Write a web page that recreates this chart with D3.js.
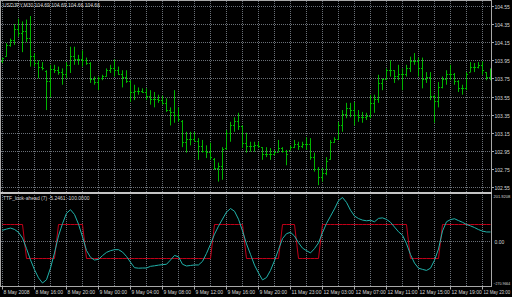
<!DOCTYPE html>
<html>
<head>
<meta charset="utf-8">
<script src="https://cdnjs.cloudflare.com/ajax/libs/d3/7.8.5/d3.min.js"></script>
<style>
body { margin: 0; background: #000; }
svg { display: block; }
text { font-family: "Liberation Sans", Arial, sans-serif; font-size: 5px; fill: #d8d8d8; }
</style>
</head>
<body>
<div id="chart"></div>
<script>
// USDJPY M30 bars, one per half hour
var barOpen = [
	103.94,104.00,104.12,104.17,104.30,104.25,104.27,104.20,104.00,103.92,
	103.88,103.83,103.72,103.85,103.84,103.82,103.80,103.90,104.00,103.96,
	103.96,103.95,103.92,103.74,103.71,103.75,103.78,103.84,103.86,103.84,
	103.80,103.76,103.72,103.60,103.61,103.61,103.60,103.56,103.52,103.52,
	103.51,103.48,103.40,103.38,103.35,103.28,103.05,103.08,103.08,103.06,
	103.00,102.95,102.94,102.86,102.76,102.78,102.98,103.15,103.24,103.28,
	103.22,103.04,103.00,103.00,103.01,102.99,102.92,102.92,102.92,102.94,
	102.98,102.95,102.96,102.99,103.02,103.00,103.02,103.02,102.88,102.75,
	102.66,102.70,102.86,103.05,103.08,103.24,103.36,103.42,103.40,103.35,
	103.32,103.32,103.34,103.48,103.52,103.70,103.74,103.84,103.84,103.78,
	103.80,103.80,103.86,103.94,103.94,103.86,103.74,103.76,103.56,103.50,
	103.66,103.74,103.80,103.80,103.72,103.64,103.64,103.82,103.88,103.88,
	103.90,103.82,103.76];
var barHigh = [
	103.98,104.14,104.19,104.35,104.41,104.38,104.40,104.44,104.03,103.95,
	103.93,103.84,103.90,103.90,103.88,103.86,103.93,104.10,104.10,104.01,
	104.06,103.98,103.93,103.77,103.77,103.79,103.86,103.90,103.96,103.88,
	103.84,103.84,103.73,103.68,103.65,103.64,103.64,103.62,103.60,103.57,
	103.56,103.53,103.43,103.62,103.43,103.29,103.16,103.16,103.16,103.09,
	103.07,103.01,103.04,102.87,102.82,102.99,103.18,103.27,103.32,103.37,
	103.23,103.15,103.05,103.05,103.05,102.99,102.99,102.98,102.96,103.07,
	102.99,102.96,103.01,103.07,103.05,103.05,103.10,103.09,102.93,102.77,
	102.76,102.88,103.07,103.10,103.27,103.40,103.48,103.48,103.49,103.40,
	103.38,103.37,103.57,103.57,103.79,103.75,103.86,103.95,103.84,103.90,
	103.86,103.90,103.99,104.03,103.98,103.98,103.82,103.82,103.57,103.71,
	103.77,103.84,103.90,103.81,103.73,103.68,103.82,103.93,103.92,103.93,
	103.94,103.82,103.86];
var barLow = [
	103.92,103.99,104.10,104.12,104.21,104.04,104.15,103.88,103.88,103.75,
	103.84,103.40,103.54,103.81,103.79,103.68,103.75,103.81,103.90,103.90,
	103.88,103.90,103.70,103.68,103.62,103.73,103.77,103.81,103.77,103.79,
	103.65,103.70,103.49,103.51,103.57,103.59,103.51,103.46,103.43,103.48,
	103.46,103.38,103.23,103.26,103.27,102.99,102.93,103.01,103.05,102.85,
	102.93,102.87,102.85,102.74,102.61,102.63,102.96,103.05,103.16,103.18,
	102.98,102.93,102.94,102.94,102.98,102.85,102.88,102.85,102.90,102.94,
	102.93,102.79,102.96,102.98,102.96,102.98,102.96,102.85,102.72,102.57,
	102.61,102.68,102.85,103.04,103.07,103.16,103.31,103.32,103.23,103.27,
	103.26,103.29,103.31,103.37,103.48,103.62,103.73,103.77,103.70,103.73,
	103.62,103.77,103.82,103.90,103.77,103.64,103.70,103.51,103.26,103.43,
	103.64,103.68,103.73,103.68,103.60,103.57,103.62,103.82,103.82,103.86,
	103.79,103.73,103.73];
var barClose = [
	103.97,104.12,104.17,104.30,104.25,104.27,104.20,104.00,103.92,103.88,
	103.86,103.72,103.85,103.84,103.82,103.80,103.90,104.00,103.96,103.96,
	103.95,103.92,103.74,103.71,103.75,103.78,103.84,103.86,103.84,103.80,
	103.76,103.72,103.60,103.61,103.61,103.60,103.56,103.52,103.52,103.51,
	103.48,103.40,103.38,103.35,103.30,103.05,103.08,103.08,103.06,103.00,
	102.95,102.94,102.88,102.76,102.78,102.97,103.15,103.24,103.28,103.22,
	103.04,103.00,103.00,103.01,103.00,102.92,102.92,102.92,102.94,102.98,
	102.95,102.92,102.99,103.02,103.00,103.02,103.02,102.88,102.75,102.66,
	102.70,102.84,103.05,103.08,103.24,103.36,103.42,103.40,103.35,103.32,
	103.32,103.34,103.48,103.52,103.70,103.74,103.84,103.84,103.78,103.80,
	103.80,103.86,103.94,103.94,103.86,103.74,103.76,103.56,103.50,103.66,
	103.74,103.80,103.80,103.72,103.64,103.64,103.80,103.88,103.88,103.90,
	103.84,103.76,103.76];

// indicator window
var ttfValues = [
	66,73,79,71,54,20,-42,-108,-166,-214,
	-244,-225,-156,-67,33,105,166,187,159,102,
	27,-53,-93,-109,-105,-83,-64,-54,-48,-48,
	-62,-88,-122,-154,-157,-156,-156,-146,-143,-139,
	-136,-134,-109,-82,-90,-134,-144,-141,-138,-138,
	-117,-70,-16,43,90,132,173,194,178,131,
	62,-14,-76,-139,-185,-226,-212,-170,-113,-47,
	17,46,54,32,-7,-39,-54,-67,-42,-8,
	52,106,149,192,240,259,230,184,150,135,
	126,122,125,116,136,139,130,113,85,57,
	37,-13,-77,-127,-157,-164,-170,-157,-110,-44,
	62,116,129,134,123,113,100,92,82,70,
	61,56,56];
var signalValues = [
	100,100,100,100,100,100,-100,-100,-100,-100,
	-100,-100,-100,-100,100,100,100,100,100,100,
	100,-100,-100,-100,-100,-100,-100,-100,-100,-100,
	-100,-100,-100,-100,-100,-100,-100,-100,-100,-100,
	-100,-100,-100,-100,-100,-100,-100,-100,-100,-100,
	-100,-100,-100,100,100,100,100,100,100,100,
	100,-100,-100,-100,-100,-100,-100,-100,-100,-100,
	100,100,100,100,-100,-100,-100,-100,-100,-100,
	100,100,100,100,100,100,100,100,100,100,
	100,100,100,100,100,100,100,100,100,100,
	100,100,-100,-100,-100,-100,-100,-100,-100,-100,
	100,100,100,100,100,100,100,100,100,100,
	100,100,100];

var priceTicks = [104.55,104.35,104.15,103.95,103.75,103.55,103.35,103.15,102.95,102.75,102.55];
var indicatorBounds = [201.9208, -270.9664];
var indicatorZero = [0];
var timeLabels = ["8 May 2008","8 May 16:00","8 May 20:00","9 May 00:00","9 May 04:00","9 May 08:00",
	"9 May 12:00","9 May 16:00","9 May 20:00","11 May 23:00","12 May 03:00","12 May 07:00",
	"12 May 11:00","12 May 15:00","12 May 19:00","12 May 23:00"];
var timeLabelBars = [0,8,16,24,32,40,48,56,64,72,80,88,96,104,112,120];
var mainTitle = "USDJPY,M30  104.69 104.69 104.66 104.66";
var subTitle = "TTF_look-ahead (7) -5.2461 -100.0000";

// shrink a label's font so it stays inside maxRight
function fitText(sel, maxRight) {
	sel.each(function() {
		var box = this.getBBox();
		if (box.x + box.width > maxRight) {
			var size = 5 * (maxRight - box.x) / box.width;
			d3.select(this).style("font-size", size.toFixed(2) + "px");
		}
	});
}

function drawChart(id) {
	var w = 512, h = 297;
	var right = 491.5, top = 0.5, sepTop = 192, sepBottom = 194, bottom = 286.5;
	var gridColor = "#6a7078", frameColor = "#a8a8a8";

	var svg = d3.select("#" + id).append("svg").attr("width", w).attr("height", h);
	svg.append("rect").attr("width", w).attr("height", h).attr("fill", "#000");

	var x = d3.scaleLinear().domain([0, barClose.length - 1]).range([2.5, 490.5]);
	var y = d3.scaleLinear().domain([102.55, 104.55]).range([187, 6]);
	var yInd = d3.scaleLinear().domain([-100, 100]).range([258.5, 224.5]);
	var yBounds = d3.scaleLinear().domain([indicatorBounds[1], indicatorBounds[0]]).range([283.5, 196.5]);

	var defs = svg.append("defs");
	defs.append("clipPath").attr("id", "clipTop").append("rect")
		.attr("x", 1).attr("y", 1).attr("width", right - 1).attr("height", sepTop - 1);
	defs.append("clipPath").attr("id", "clipBottom").append("rect")
		.attr("x", 1).attr("y", sepBottom).attr("width", right - 1).attr("height", bottom - sepBottom);

	// grid
	var grid = svg.append("g").attr("stroke", gridColor).attr("stroke-width", 1).attr("stroke-dasharray", "1,1");
	var vBars = d3.range(0, barClose.length, 4);
	grid.selectAll(".vgrid").data(vBars).enter().append("line")
		.attr("x1", function(d) { return x(d); }).attr("x2", function(d) { return x(d); })
		.attr("y1", 1).attr("y2", bottom);
	grid.selectAll(".hgrid").data(priceTicks).enter().append("line")
		.attr("x1", 1).attr("x2", right)
		.attr("y1", function(d) { return Math.round(y(d)) + 0.5; })
		.attr("y2", function(d) { return Math.round(y(d)) + 0.5; });
	grid.selectAll(".zgrid").data(indicatorZero).enter().append("line")
		.attr("x1", 1).attr("x2", right)
		.attr("y1", function(d) { return yInd(d); }).attr("y2", function(d) { return yInd(d); });

	// bars
	var bars = svg.append("g").attr("clip-path", "url(#clipTop)")
		.attr("stroke", "#00b400").attr("stroke-width", 1);
	var idx = d3.range(barClose.length);
	bars.selectAll(".hl").data(idx).enter().append("line")
		.attr("x1", function(i) { return x(i); }).attr("x2", function(i) { return x(i); })
		.attr("y1", function(i) { return y(barHigh[i]); }).attr("y2", function(i) { return y(barLow[i]); });
	bars.selectAll(".op").data(idx).enter().append("line")
		.attr("x1", function(i) { return x(i) - 1.5; }).attr("x2", function(i) { return x(i); })
		.attr("y1", function(i) { return Math.round(y(barOpen[i])) + 0.5; })
		.attr("y2", function(i) { return Math.round(y(barOpen[i])) + 0.5; });
	bars.selectAll(".cl").data(idx).enter().append("line")
		.attr("x1", function(i) { return x(i); }).attr("x2", function(i) { return x(i) + 1.5; })
		.attr("y1", function(i) { return Math.round(y(barClose[i])) + 0.5; })
		.attr("y2", function(i) { return Math.round(y(barClose[i])) + 0.5; });

	// indicator lines
	var ind = svg.append("g").attr("clip-path", "url(#clipBottom)").attr("fill", "none");
	ind.append("path").datum(signalValues)
		.attr("stroke", "#c00018").attr("stroke-width", 1)
		.attr("d", d3.line().x(function(d, i) { return x(i); }).y(function(d) { return yInd(d); }));
	ind.append("path").datum(ttfValues)
		.attr("stroke", "#20b2aa").attr("stroke-width", 1)
		.attr("d", d3.line().x(function(d, i) { return x(i); }).y(function(d) { return yInd(d); }));

	// frame
	var frame = svg.append("g").attr("stroke", frameColor).attr("stroke-width", 1).attr("fill", "none");
	frame.append("rect").attr("x", 0.5).attr("y", top).attr("width", right - 0.5).attr("height", bottom - top);
	svg.append("rect").attr("x", 0).attr("y", sepTop).attr("width", right + 0.5).attr("height", sepBottom - sepTop)
		.attr("fill", "#c4c4c4");

	// price axis
	var pAxis = svg.append("g");
	pAxis.selectAll(".pt").data(priceTicks).enter().append("line")
		.attr("x1", right).attr("x2", right + 2.5)
		.attr("y1", function(d) { return Math.round(y(d)) + 0.5; })
		.attr("y2", function(d) { return Math.round(y(d)) + 0.5; })
		.attr("stroke", frameColor);
	pAxis.selectAll(".pl").data(priceTicks).enter().append("text")
		.attr("x", 494.5).attr("y", function(d) { return Math.round(y(d)) + 0.5; })
		.attr("dominant-baseline", "central")
		.text(function(d) { return d3.format(".2f")(d); });

	// indicator axis
	var boundLabels = pAxis.selectAll(".il").data(indicatorBounds).enter().append("text")
		.attr("x", 493.5).attr("y", function(d) { return yBounds(d); })
		.attr("dominant-baseline", "central")
		.text(function(d) { return d3.format(".4f")(d); });
	fitText(boundLabels, 510.5);
	pAxis.selectAll(".iz").data(indicatorZero).enter().append("text")
		.attr("x", 494.5).attr("y", function(d) { return yInd(d); })
		.attr("dominant-baseline", "central")
		.text(function(d) { return d3.format(".2f")(d); });

	// time axis
	var tAxis = svg.append("g");
	tAxis.selectAll(".tt").data(timeLabelBars).enter().append("line")
		.attr("x1", function(d) { return x(d); }).attr("x2", function(d) { return x(d); })
		.attr("y1", bottom).attr("y2", bottom + 3)
		.attr("stroke", frameColor);
	var tLabels = tAxis.selectAll(".tl").data(timeLabelBars).enter().append("text")
		.attr("x", function(d) { return x(d) + 1; }).attr("y", 294)
		.text(function(d, i) { return timeLabels[i]; });
	fitText(tLabels, 510.5);

	// titles
	svg.append("text").attr("x", 3).attr("y", 7).text(mainTitle);
	svg.append("text").attr("x", 3).attr("y", 200).text(subTitle);
}

drawChart("chart");
</script>
</body>
</html>
